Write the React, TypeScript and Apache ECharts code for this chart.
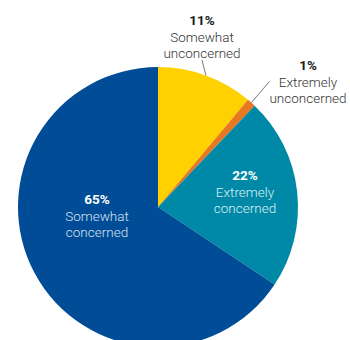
import React, { useEffect, useRef } from "react";
import * as echarts from "echarts";

const categories = ["Somewhat unconcerned", "Extremely unconcerned", "Extremely concerned", "Somewhat concerned"];
const values = [11, 1, 22, 65];
const colors = ["#FFD100", "#E87722", "#0089A6", "#004C97"];
const labelColors = ["#333333", "#333333", "#DDF0F4", "#D9E2EF"];
const pctColors = ["#1a1a1a", "#1a1a1a", "#FFFFFF", "#FFFFFF"];
const labelPos: [number, number][] = [
  [202, 36.5],
  [308, 81.5],
  [245, 191.5],
  [97, 215.5],
];

export default function App() {
  const ref = useRef<HTMLDivElement>(null);
  useEffect(() => {
    if (!ref.current) return;
    const chart = echarts.init(ref.current, undefined, { renderer: "svg" });
    chart.setOption({
      animation: false,
      backgroundColor: "#ffffff",
      series: [
        {
          type: "pie",
          center: [158, 207],
          radius: 140,
          startAngle: 90,
          clockwise: true,
          avoidLabelOverlap: false,
          emphasis: { disabled: true },
          data: categories.map((c, i) => ({
            name: c,
            value: values[i],
            itemStyle: { color: colors[i] },
            label: {
              show: true,
              position: i < 2 ? "outside" : "inside",
              formatter: (p: any) => `{p|${p.value}%}\n{n|${p.name.replace(" ", "\n")}}`,
              rich: {
                p: { fontFamily: "Roboto", fontWeight: "bold", fontSize: 13.5, lineHeight: 16.5, color: pctColors[i], align: "center" },
                n: { fontFamily: "Roboto", fontWeight: 300, fontSize: 13.5, lineHeight: 16.5, color: labelColors[i], align: "center" },
              },
            },
            labelLine: i < 2 ? { show: true, length: 8, length2: 0, lineStyle: { color: "#777777", width: 1 } } : { show: false },
          })),
          labelLayout: (params: any) => {
            const pos = labelPos[params.dataIndex];
            return { x: pos[0], y: pos[1], align: "center", verticalAlign: "middle" };
          },
        },
      ],
    });
    return () => chart.dispose();
  }, []);
  return <div ref={ref} style={{ position: "fixed", left: 0, top: 0, width: 350, height: 340 }} />;
}
